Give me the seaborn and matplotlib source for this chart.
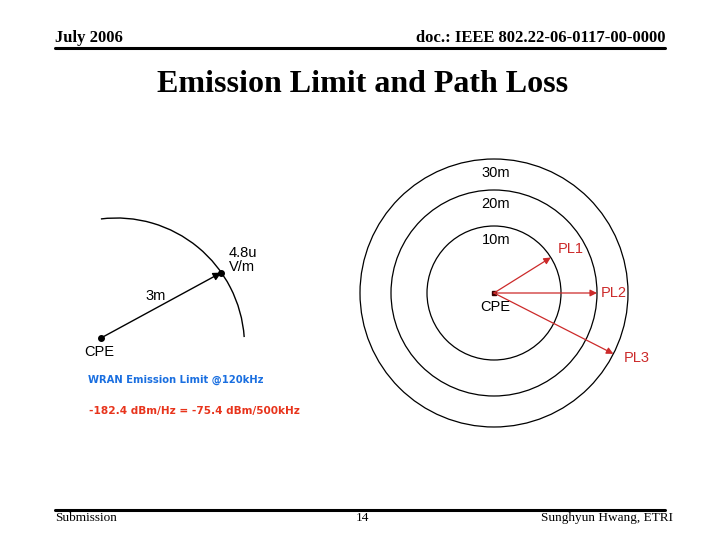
import numpy as np
import matplotlib
matplotlib.use("Agg")
import matplotlib.pyplot as plt
import seaborn as sns
from matplotlib.patches import Circle, Arc

sns.set_theme(style="white")
plt.rcParams["font.family"] = ["Liberation Sans", "DejaVu Sans"]
plt.rcParams["text.color"] = "black"

# slide texts
header_left = "July 2006"
header_right = "doc.: IEEE 802.22-06-0117-00-0000"
title = "Emission Limit and Path Loss"
footer_left = "Submission"
footer_mid = "14"
footer_right = "Sunghyun Hwang, ETRI"

# left diagram (emission limit at 3m)
limit_dist_label = "3m"
limit_field_label = "4.8u\nV/m"
limit_arc_radius = 128
limit_arc_span = [4, 97]      # degrees
limit_tip_angle = 35          # degrees on the arc
blue_note = "WRAN Emission Limit @120kHz"
red_note = "-182.4 dBm/Hz = -75.4 dBm/500kHz"

# right diagram (path loss rings)
ring_labels = ["10m", "20m", "30m"]
ring_radius = [67, 103, 134]
pl_labels = ["PL1", "PL2", "PL3"]
pl_angle = [32, 0, -27]       # degrees
pl_ring = [0, 1, 2]

red = "#cc2a2a"

fig = plt.figure(figsize=(7.2, 5.4), dpi=100)
ax = fig.add_axes([0, 0, 1, 1])
ax.set_xlim(0, 720)
ax.set_ylim(540, 0)
ax.axis("off")

# header / footer
ax.plot([55, 665], [48, 48], color="black", lw=2.2)
ax.text(55, 46, header_left, family="Liberation Serif", weight="bold", fontsize=12, ha="left", va="bottom")
ax.text(665, 46, header_right, family="Liberation Serif", weight="bold", fontsize=12, ha="right", va="bottom")
ax.text(363, 84, title, family="Liberation Serif", weight="bold", fontsize=23, ha="center", va="center")

ax.plot([55, 665], [510, 510], color="black", lw=2.2)
ax.text(55, 512, footer_left, family="Liberation Serif", fontsize=9.5, ha="left", va="top")
ax.text(362, 512, footer_mid, family="Liberation Serif", fontsize=9.5, ha="center", va="top")
ax.text(673, 512, footer_right, family="Liberation Serif", fontsize=9.5, ha="right", va="top")

# ---- left diagram
arc_c = (116.5, 346)
ax.add_patch(Arc(arc_c, 2 * limit_arc_radius, 2 * limit_arc_radius,
                 theta1=-limit_arc_span[1], theta2=-limit_arc_span[0], color="black", lw=1))
cpe_l = (101, 338)
t = np.radians(limit_tip_angle)
tip = (arc_c[0] + limit_arc_radius * np.cos(t), arc_c[1] - limit_arc_radius * np.sin(t))
ax.annotate("", xy=tip, xytext=cpe_l,
            arrowprops=dict(arrowstyle="-|>", color="black", lw=1, mutation_scale=12, shrinkA=0, shrinkB=0))
ax.plot(*cpe_l, "o", color="black", ms=4)
ax.plot(*tip, "o", color="black", ms=4)
ax.text(cpe_l[0] - 2, 352, "CPE", fontsize=10.5, ha="center", va="center")
ax.text(156, 296, limit_dist_label, fontsize=10.5, ha="center", va="center")
ax.text(229, 260, limit_field_label, fontsize=10.5, ha="left", va="center", linespacing=0.95)
ax.text(88, 380, blue_note, fontsize=7.2, weight="bold", color="#1a6fe0", family="DejaVu Sans",
        ha="left", va="center")
ax.text(89, 411, red_note, fontsize=7.6, weight="bold", color="#e8341c", family="DejaVu Sans",
        ha="left", va="center")

# ---- right diagram
cx, cy = 494, 293
for r, lab in zip(ring_radius, ring_labels):
    ax.add_patch(Circle((cx, cy), r, fill=False, color="black", lw=0.9))
    ax.text(cx + 2, cy - r + 14, lab, fontsize=10.5, ha="center", va="center")

offsets = [(7, -8), (4, 0), (10, 4)]
for lab, ang, ri, off in zip(pl_labels, pl_angle, pl_ring, offsets):
    a = np.radians(ang)
    r = ring_radius[ri]
    tx, ty = cx + r * np.cos(a), cy - r * np.sin(a)
    ax.annotate("", xy=(tx, ty), xytext=(cx, cy),
                arrowprops=dict(arrowstyle="-|>", color=red, lw=0.9, mutation_scale=10, shrinkA=0, shrinkB=0))
    ax.text(tx + off[0], ty + off[1], lab, fontsize=10.5, color=red, ha="left", va="center")

ax.plot(cx, cy, "s", color="#3a0000", ms=3)
ax.text(cx + 1, cy + 14, "CPE", fontsize=10.5, ha="center", va="center")

fig.savefig("out.png", dpi=100)
